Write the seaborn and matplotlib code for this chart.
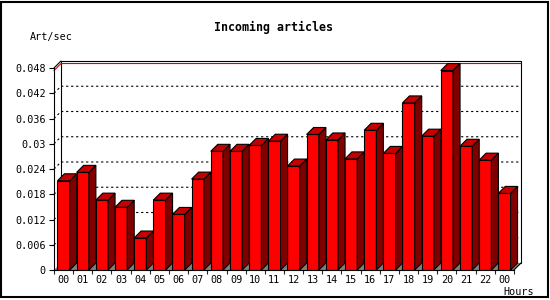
import numpy as np
import pandas as pd
import matplotlib
matplotlib.use("Agg")
import matplotlib.pyplot as plt
from matplotlib.patches import Polygon, Rectangle
import seaborn as sns

# ---------------- data ----------------
hour_labels = ["00", "01", "02", "03", "04", "05", "06", "07", "08", "09", "10", "11",
               "12", "13", "14", "15", "16", "17", "18", "19", "20", "21", "22", "00"]
art_per_sec = [0.0212, 0.0232, 0.0166, 0.0149, 0.0076, 0.0166, 0.0132, 0.0216,
               0.0282, 0.0282, 0.0296, 0.0306, 0.0247, 0.0322, 0.0309, 0.0264,
               0.0332, 0.0277, 0.0397, 0.0318, 0.0474, 0.0294, 0.0261, 0.0182]
y_ticks = [0, 0.006, 0.012, 0.018, 0.024, 0.03, 0.036, 0.042, 0.048]
y_tick_labels = ["0", "0.006", "0.012", "0.018", "0.024", "0.03", "0.036", "0.042", "0.048"]
title = "Incoming articles"
y_title = "Art/sec"
x_title = "Hours"

# ---------------- figure ----------------
sns.set_style("white")
plt.rcParams["font.family"] = ["DejaVu Sans Mono", "DejaVu Sans"]

W, H = 550, 300
fig = plt.figure(figsize=(W / 100, H / 100), dpi=100)
ax_l, ax_b, ax_w, ax_h = 54, 30, 460, 202   # pixels (front plane)
ax = fig.add_axes([ax_l / W, ax_b / H, ax_w / W, ax_h / H])

df = pd.DataFrame({"slot": np.arange(len(art_per_sec)), "rate": art_per_sec})
sns.barplot(data=df, x="slot", y="rate", color="#FF0000", saturation=1, width=0.64,
            edgecolor="black", linewidth=0.8, ax=ax, zorder=4)

n = len(art_per_sec)
xmin, xmax = -0.5, n - 0.5
ymin, ymax = 0, 0.048
ax.set_xlim(xmin, xmax)
ax.set_ylim(ymin, ymax)

# 3D depth offset converted from pixels into data units
depth_px = 7
dx = depth_px * (xmax - xmin) / ax_w
dy = depth_px * (ymax - ymin) / ax_h

# back wall
ax.add_patch(Rectangle((xmin + dx, ymin + dy), xmax - xmin, ymax - ymin,
                       facecolor="white", edgecolor="black", linewidth=0.8,
                       zorder=0.5, clip_on=False))
# floor
ax.add_patch(Polygon([(xmin, 0), (xmax, 0), (xmax + dx, dy), (xmin + dx, dy)],
                     closed=True, facecolor="#808080", edgecolor="none",
                     zorder=0.6, clip_on=False))
# left wall / right edge connectors
ax.plot([xmin, xmin + dx], [ymax, ymax + dy], color="black", lw=0.8, clip_on=False, zorder=5)
ax.plot([xmax, xmax + dx], [0, dy], color="black", lw=0.8, clip_on=False, zorder=5)

# dotted gridlines on left wall + back wall
for yv in y_ticks[1:-1]:
    ax.plot([xmin, xmin + dx, xmax + dx], [yv, yv + dy, yv + dy],
            color="black", lw=0.8, linestyle=(0, (2, 2.5)), clip_on=False, zorder=1)

# max line (red)
ymaxv = max(art_per_sec)
ax.plot([xmin, xmin + dx, xmax + dx], [ymaxv, ymaxv + dy, ymaxv + dy],
        color="#E00000", lw=0.8, clip_on=False, zorder=1)

# side and top faces of each bar, from seaborn's bars
for p in list(ax.patches):
    if not isinstance(p, matplotlib.patches.Rectangle) or p.get_zorder() != 4:
        continue
    x0 = p.get_x()
    w = p.get_width()
    h = p.get_height()
    x1 = x0 + w
    side = Polygon([(x1, 0), (x1 + dx, dy), (x1 + dx, h + dy), (x1, h)], closed=True,
                   facecolor="#800000", edgecolor="black", linewidth=0.8,
                   zorder=4, clip_on=False)
    top = Polygon([(x0, h), (x0 + dx, h + dy), (x1 + dx, h + dy), (x1, h)], closed=True,
                  facecolor="#C40000", edgecolor="black", linewidth=0.8,
                  zorder=4, clip_on=False)
    ax.add_patch(side)
    ax.add_patch(top)

# spines
for s in ["top", "right"]:
    ax.spines[s].set_visible(False)
for s in ["left", "bottom"]:
    ax.spines[s].set_color("black")
    ax.spines[s].set_linewidth(0.8)
    ax.spines[s].set_zorder(6)

# ticks
ax.set_yticks(y_ticks)
ax.set_yticklabels(y_tick_labels)
ax.tick_params(axis="y", direction="out", length=3.5, width=0.8, pad=2.5,
               labelsize=7.3, colors="black", left=True)
ax.set_xticks(np.arange(n + 1) - 0.5)
ax.set_xticklabels([""] * (n + 1))
ax.set_xticks(np.arange(n), minor=True)
ax.set_xticklabels(hour_labels, minor=True)
ax.tick_params(axis="x", which="major", direction="out", length=3, width=0.8, bottom=True)
ax.tick_params(axis="x", which="minor", length=0, pad=3.5, labelsize=7.3, colors="black")
ax.set_xlabel("")
ax.set_ylabel("")

# texts
fig.text(274 / W, 1 - 27 / H, title, ha="center", va="center",
         fontsize=8.4, fontweight="bold", color="black")
fig.text(30 / W, 1 - 37 / H, y_title, ha="left", va="center", fontsize=7.3, color="black")
fig.text(503 / W, 1 - 292 / H, x_title, ha="left", va="center", fontsize=7.3, color="black")

# frame
fig.add_artist(Rectangle((1 / W, 3 / H), 547 / W, 295 / H, transform=fig.transFigure,
                         fill=False, edgecolor="black", linewidth=1.5))

fig.savefig("out.png", dpi=100, facecolor="white")
